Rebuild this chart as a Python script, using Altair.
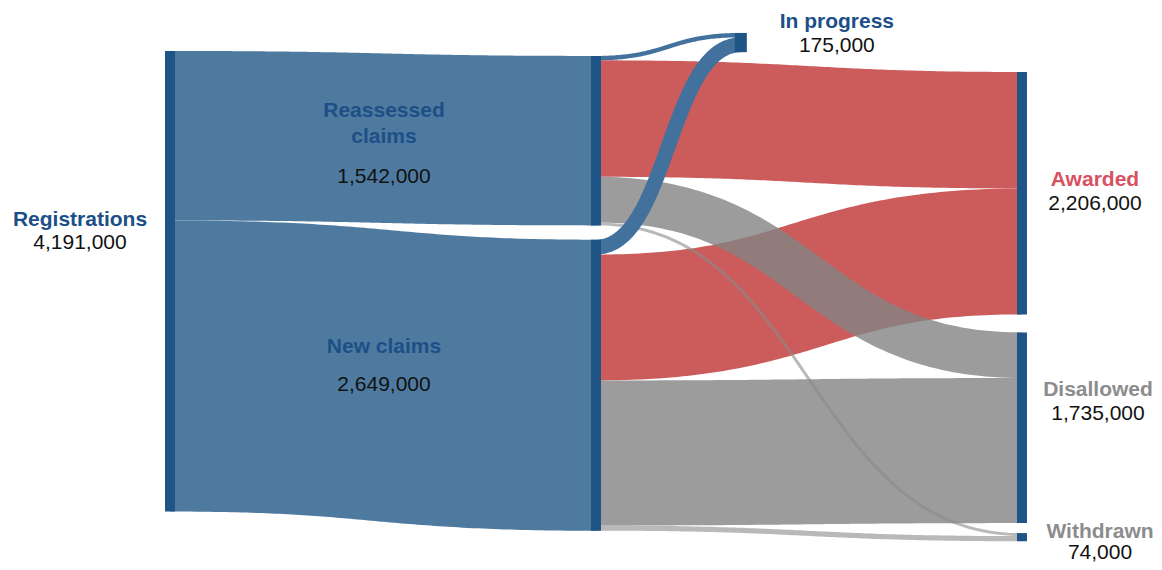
import altair as alt
import numpy as np
import pandas as pd

# ---------------- data ----------------
node_names = ["Registrations", "Reassessed claims", "New claims", "In progress",
              "Awarded", "Disallowed", "Withdrawn"]
node_totals = [4191000, 1542000, 2649000, 175000, 2206000, 1735000, 74000]
node_label_lines = [["Registrations"], ["Reassessed", "claims"], ["New claims"],
                    ["In progress"], ["Awarded"], ["Disallowed"], ["Withdrawn"]]

link_source = ["Registrations", "Registrations",
               "Reassessed claims", "Reassessed claims", "Reassessed claims", "Reassessed claims",
               "New claims", "New claims", "New claims", "New claims"]
link_target = ["Reassessed claims", "New claims",
               "In progress", "Awarded", "Disallowed", "Withdrawn",
               "In progress", "Awarded", "Disallowed", "Withdrawn"]
link_value = [1542, 2649, 40, 1060, 415, 27, 135, 1146, 1320, 47]  # thousands

# ---------------- layout parameters ----------------
W, H = 1146, 554
X_DOMAIN = [-0.3803, 2.3099]
Y_DOMAIN = [-391.0, 4650.0]
PX_X = W / (X_DOMAIN[1] - X_DOMAIN[0])
PX_Y = H / (Y_DOMAIN[1] - Y_DOMAIN[0])

node_stage = {"Registrations": 0.0, "Reassessed claims": 1.0, "New claims": 1.0,
              "In progress": 1.34, "Awarded": 2.0, "Disallowed": 2.0, "Withdrawn": 2.0}
node_gap_before = {"Registrations": 0, "Reassessed claims": 45, "New claims": 130,
                   "In progress": -164, "Awarded": 191, "Disallowed": 164, "Withdrawn": 91}
node_bar_width = {"In progress": 12}
# label offsets in px relative to node (x) and node centre (y)
label_dx = {"Registrations": -90, "Reassessed claims": -212, "New claims": -212,
            "In progress": 96, "Awarded": 73, "Disallowed": 76, "Withdrawn": 78}
label_name_dy = {"Registrations": [-61], "Reassessed claims": [-30, -4], "New claims": [-38],
                 "In progress": [-21], "Awarded": [-13], "Disallowed": [-38], "Withdrawn": [-5]}
label_value_dy = {"Registrations": -38, "Reassessed claims": 36, "New claims": 0,
                  "In progress": 3, "Awarded": 11, "Disallowed": -14, "Withdrawn": 16}
name_color = {"Registrations": "#1d4f87", "Reassessed claims": "#1d4f87", "New claims": "#1d4f87",
              "In progress": "#1d4f87", "Awarded": "#d9505f", "Disallowed": "#8c8c8c",
              "Withdrawn": "#8c8c8c"}

# ---------------- sankey layout ----------------
in_sum = {n: 0 for n in node_names}
out_sum = {n: 0 for n in node_names}
for s, t, v in zip(link_source, link_target, link_value):
    out_sum[s] += v
    in_sum[t] += v
node_h = {n: max(in_sum[n], out_sum[n]) for n in node_names}

col_cursor = {}
node_top = {}
for n in node_names:
    st = node_stage[n]
    c = col_cursor.get(st, 0)
    top = c + node_gap_before[n]
    node_top[n] = top
    col_cursor[st] = top + node_h[n]

src_cur = dict(node_top)
tgt_cur = dict(node_top)
rows = []
T = np.linspace(0, 1, 90)
for k, (s, t, v) in enumerate(zip(link_source, link_target, link_value)):
    y0 = src_cur[s] + v / 2
    src_cur[s] += v
    y1 = tgt_cur[t] + v / 2
    tgt_cur[t] += v
    x0, x1 = node_stage[s], node_stage[t]
    xm = (x0 + x1) / 2
    if s == "Registrations":
        grp = "reg"
    elif t == "In progress":
        grp = "prog"
    elif t == "Awarded":
        grp = "award"
    elif t == "Disallowed":
        grp = "dis"
    else:
        grp = "wd"
    for i, tt in enumerate(T):
        a = (1 - tt)
        x = a**3 * x0 + 3 * a * a * tt * xm + 3 * a * tt * tt * xm + tt**3 * x1
        y = y0 + (y1 - y0) * (3 * tt**2 - 2 * tt**3)
        rows.append({"link": k, "i": i, "x": x, "y": y, "w": v, "grp": grp})
links = pd.DataFrame(rows)

nodes = pd.DataFrame({
    "name": node_names,
    "x": [node_stage[n] for n in node_names],
    "y": [node_top[n] for n in node_names],
    "y2": [node_top[n] + node_h[n] for n in node_names],
    "bw": [node_bar_width.get(n, 10) for n in node_names],
})

lab_rows = []
for n, tot, lines in zip(node_names, node_totals, node_label_lines):
    cx = node_stage[n] + label_dx[n] / PX_X
    cy = node_top[n] + node_h[n] / 2
    for line, dy in zip(lines, label_name_dy[n]):
        lab_rows.append({"x": cx, "y": cy + dy / PX_Y, "text": line,
                         "color": name_color[n], "kind": "name"})
    lab_rows.append({"x": cx, "y": cy + label_value_dy[n] / PX_Y, "text": f"{tot:,}",
                     "color": "#111111", "kind": "value"})
labels = pd.DataFrame(lab_rows)

xs = alt.Scale(domain=X_DOMAIN, nice=False, zero=False)
ys = alt.Scale(domain=Y_DOMAIN, nice=False, zero=False, reverse=True)
sw = alt.Scale(domain=[0, Y_DOMAIN[1] - Y_DOMAIN[0]], range=[0, H], zero=True)


def link_layer(grp, color, opacity):
    return alt.Chart(links[links.grp == grp]).mark_line(
        color=color, opacity=opacity, strokeCap="butt", strokeJoin="round"
    ).encode(
        x=alt.X("x:Q", scale=xs, axis=None),
        y=alt.Y("y:Q", scale=ys, axis=None),
        detail="link:N",
        order="i:Q",
        strokeWidth=alt.StrokeWidth("w:Q", scale=sw, legend=None),
    )


reg = link_layer("reg", "#4e7aa0", 1.0)
award = link_layer("award", "#cc5c5c", 1.0)
dis = link_layer("dis", "#838383", 0.8)
wd = link_layer("wd", "#8a8a8a", 0.6)
prog = link_layer("prog", "#41719c", 1.0)

node_layer = alt.Chart(nodes).mark_rule(color="#1f5486", strokeCap="butt").encode(
    x=alt.X("x:Q", scale=xs, axis=None),
    y=alt.Y("y:Q", scale=ys, axis=None),
    y2="y2:Q",
    strokeWidth=alt.StrokeWidth("bw:Q", scale=None),
)

name_layer = alt.Chart(labels[labels.kind == "name"]).mark_text(
    font="Liberation Sans", fontSize=21, fontWeight="bold", align="center", baseline="middle"
).encode(
    x=alt.X("x:Q", scale=xs, axis=None),
    y=alt.Y("y:Q", scale=ys, axis=None),
    text="text:N",
    color=alt.Color("color:N", scale=None),
)
value_layer = alt.Chart(labels[labels.kind == "value"]).mark_text(
    font="Liberation Sans", fontSize=21, align="center", baseline="middle"
).encode(
    x=alt.X("x:Q", scale=xs, axis=None),
    y=alt.Y("y:Q", scale=ys, axis=None),
    text="text:N",
    color=alt.Color("color:N", scale=None),
)

chart = alt.layer(reg, award, dis, wd, prog, node_layer, name_layer, value_layer).properties(
    width=W, height=H,
    padding=0,
    autosize=alt.AutoSizeParams(type="none"),
    background="white",
).configure_view(stroke=None)

chart.save("out.html", embed_options={"renderer": "svg", "actions": False})
